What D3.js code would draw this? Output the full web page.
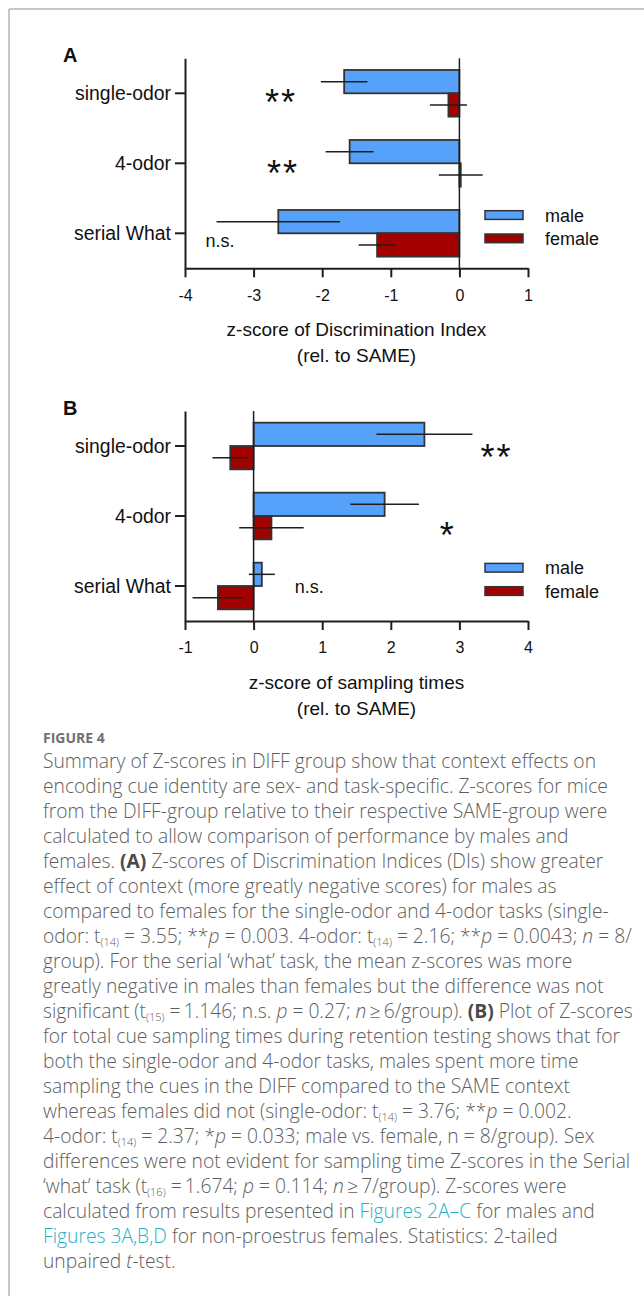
<!DOCTYPE html>
<html>
<head>
<meta charset="utf-8">
<script src="https://cdn.jsdelivr.net/npm/d3@7"></script>
<style>
  body { margin: 0; background: #fff; }
  svg text { font-family: "Liberation Sans", Arial, sans-serif; }
  .caption text { font-family: "Open Sans", sans-serif; white-space: pre; }
</style>
</head>
<body>
<svg id="fig" width="644" height="1296"></svg>
<script>
// categories and groups
var tasks = ["single-odor", "4-odor", "serial What"];
var sexes = ["male", "female"];

// panel A: z-score of discrimination index (mean, sem)
var diMale = [-1.68, -1.60, -2.64];
var diMaleErr = [0.34, 0.35, 0.90];
var diFemale = [-0.16, 0.02, -1.20];
var diFemaleErr = [0.27, 0.32, 0.27];
var diTicks = [-4, -3, -2, -1, 0, 1];
var diSig = ["**", "**", "n.s."];

// panel B: z-score of sampling times (mean, sem)
var stMale = [2.49, 1.91, 0.12];
var stMaleErr = [0.70, 0.50, 0.19];
var stFemale = [-0.34, 0.26, -0.52];
var stFemaleErr = [0.26, 0.47, 0.37];
var stTicks = [-1, 0, 1, 2, 3, 4];
var stSig = ["**", "*", "n.s."];

var colors = { male: "#56a2fb", female: "#a30000" };
var ink = "#1e1e1e";

var svg = d3.select("#fig");

// frame
svg.append("line").attr("x1", 9).attr("y1", 9).attr("x2", 644).attr("y2", 9)
    .attr("stroke", "#b4b4b4").attr("stroke-width", 1.5);
svg.append("line").attr("x1", 9).attr("y1", 9).attr("x2", 9).attr("y2", 1296)
    .attr("stroke", "#b4b4b4").attr("stroke-width", 1.5);

function panel(cfg) {
  var g = svg.append("g");
  var x = d3.scaleLinear().domain(d3.extent(cfg.ticks)).range([185, 528]);
  var y = d3.scaleBand().domain(tasks).range([cfg.top, cfg.top + 210]);
  var bw = y.bandwidth();
  var ySub = d3.scaleBand().domain(sexes).range([bw / 6, bw * 5 / 6]);

  var rows = [];
  tasks.forEach(function(t, i) {
    rows.push({ task: t, sex: "male", v: cfg.male[i], e: cfg.maleErr[i] });
    rows.push({ task: t, sex: "female", v: cfg.female[i], e: cfg.femaleErr[i] });
  });

  g.selectAll(".bar").data(rows).enter().append("rect")
      .attr("class", "bar")
      .attr("x", function(d) { return x(Math.min(0, d.v)); })
      .attr("width", function(d) { return Math.abs(x(d.v) - x(0)); })
      .attr("y", function(d) { return y(d.task) + ySub(d.sex); })
      .attr("height", ySub.bandwidth())
      .attr("fill", function(d) { return colors[d.sex]; })
      .attr("stroke", "#333")
      .attr("stroke-width", 1.8);

  g.selectAll(".err").data(rows).enter().append("line")
      .attr("class", "err")
      .attr("x1", function(d) { return x(d.v - d.e); })
      .attr("x2", function(d) { return x(d.v + d.e); })
      .attr("y1", function(d) { return y(d.task) + ySub(d.sex) + ySub.bandwidth() / 2; })
      .attr("y2", function(d) { return y(d.task) + ySub(d.sex) + ySub.bandwidth() / 2; })
      .attr("stroke", ink)
      .attr("stroke-width", 1.5);

  // zero line
  g.append("line")
      .attr("x1", x(0)).attr("x2", x(0))
      .attr("y1", cfg.top).attr("y2", cfg.top + 210)
      .attr("stroke", ink).attr("stroke-width", 1.5);

  var xAxis = g.append("g")
      .attr("transform", "translate(0," + (cfg.top + 210) + ")")
      .call(d3.axisBottom(x).tickValues(cfg.ticks).tickSize(9).tickPadding(12)
        .tickSizeOuter(0).tickFormat(function(d) { return String(d); }));
  var yAxis = g.append("g")
      .attr("transform", "translate(185,0)")
      .call(d3.axisLeft(y).tickSize(10).tickPadding(4).tickSizeOuter(0));

  [xAxis, yAxis].forEach(function(a) {
    a.select(".domain").attr("stroke", ink).attr("stroke-width", 2);
    a.selectAll(".tick line").attr("stroke", ink).attr("stroke-width", 2);
    a.selectAll(".tick text").attr("fill", "#111");
  });
  xAxis.selectAll(".tick text").style("font-size", "16px");
  yAxis.selectAll(".tick text").style("font-size", "19.4px").attr("dy", "0.36em");

  // significance marks
  cfg.sig.forEach(function(s, i) {
    var pos = cfg.sigPos[i];
    var star = s.indexOf("*") === 0;
    g.append("text")
        .attr("x", x(pos[0]))
        .attr("y", y(tasks[i]) + bw / 2 + pos[1] + (star ? 21 : 0))
        .attr("text-anchor", star ? "middle" : "start")
        .style("font-size", star ? "36px" : "18px")
        .style("letter-spacing", star ? "2px" : "0px")
        .attr("fill", "#111")
        .text(s);
  });

  // legend
  var leg = g.append("g").attr("transform", "translate(485," + (cfg.top + 152.4) + ")");
  sexes.forEach(function(s, i) {
    leg.append("rect").attr("x", 0).attr("y", i * 23.3).attr("width", 38).attr("height", 8.7)
        .attr("fill", colors[s]).attr("stroke", "#333").attr("stroke-width", 1.5);
    leg.append("text").attr("x", 60).attr("y", i * 23.3 + 11)
        .style("font-size", "18px").attr("fill", "#111").text(s);
  });

  // axis title
  cfg.title.forEach(function(t, i) {
    g.append("text")
        .attr("x", 356.5).attr("y", cfg.top + 210 + 68 + i * 25.5)
        .attr("text-anchor", "middle").style("font-size", "19px").attr("fill", "#111")
        .text(t);
  });

  // panel letter
  g.append("text").attr("x", 63).attr("y", cfg.top + 4)
      .style("font-size", "20px").style("font-weight", "bold").attr("fill", "#111")
      .text(cfg.letter);
}

panel({
  top: 58.3, ticks: diTicks, letter: "A",
  male: diMale, maleErr: diMaleErr, female: diFemale, femaleErr: diFemaleErr,
  sig: diSig, sigPos: [[-2.6, 1], [-2.57, 2], [-3.7, 13.4]],
  title: ["z-score of Discrimination Index", "(rel. to SAME)"]
});

panel({
  top: 411, ticks: stTicks, letter: "B",
  male: stMale, maleErr: stMaleErr, female: stFemale, femaleErr: stFemaleErr,
  sig: stSig, sigPos: [[3.54, 3], [2.83, 10.5], [0.6, 7.3]],
  title: ["z-score of sampling times", "(rel. to SAME)"]
});

// caption
var captionLines = [
  "Summary of Z-scores in DIFF group show that context effects on",
  "encoding cue identity are sex- and task-specific. Z-scores for mice",
  "from the DIFF-group relative to their respective SAME-group were",
  "calculated to allow comparison of performance by males and",
  "females. <b>(A)</b> Z-scores of Discrimination Indices (DIs) show greater",
  "effect of context (more greatly negative scores) for males as",
  "compared to females for the single-odor and 4-odor tasks (single-",
  "odor: t<s>(14)</s> = 3.55; **<i>p</i> = 0.003. 4-odor: t<s>(14)</s> = 2.16; **<i>p</i> = 0.0043; <i>n</i> = 8/",
  "group). For the serial \u2018what\u2019 task, the mean z-scores was more",
  "greatly negative in males than females but the difference was not",
  "significant (t<s>(15)</s> =\u20091.146; n.s. <i>p</i> = 0.27; <i>n</i>\u2009\u2265\u20096/group). <b>(B)</b> Plot of Z-scores",
  "for total cue sampling times during retention testing shows that for",
  "both the single-odor and 4-odor tasks, males spent more time",
  "sampling the cues in the DIFF compared to the SAME context",
  "whereas females did not (single-odor: t<s>(14)</s> = 3.76; **<i>p</i> = 0.002.",
  "4-odor: t<s>(14)</s> = 2.37; *<i>p</i> = 0.033; male vs. female, n = 8/group). Sex",
  "differences were not evident for sampling time Z-scores in the Serial",
  "\u2018what\u2019 task (t<s>(16)</s> =\u20091.674; <i>p</i> = 0.114; <i>n</i>\u2009\u2265\u20097/group). Z-scores were",
  "calculated from results presented in <a>Figures 2A\u2013C</a> for males and",
  "<a>Figures 3A,B,D</a> for non-proestrus females. Statistics: 2-tailed",
  "unpaired <i>t</i>-test."
];

var cap = svg.append("g").attr("class", "caption");
cap.append("text").attr("x", 43).attr("y", 743)
    .style("font-size", "14px").style("font-weight", "bold").attr("fill", "#707070")
    .text("FIGURE 4");

captionLines.forEach(function(line, k) {
  var t = cap.append("text").attr("x", 43).attr("y", 768 + k * 25)
      .style("font-size", "19.25px").style("font-weight", "300").attr("fill", "#5e5e5e");
  var st = { b: false, i: false, s: false, a: false }, shift = 0;
  line.split(/(<\/?[bisa]>)/).forEach(function(p) {
    var m = p.match(/^<(\/?)([bisa])>$/);
    if (m) { st[m[2]] = !m[1]; return; }
    if (!p) return;
    var ts = t.append("tspan").text(p);
    var want = st.s ? 3 : 0;
    if (want !== shift) { ts.attr("dy", want - shift); shift = want; }
    if (st.s) ts.style("font-size", "11px");
    if (st.i) ts.style("font-style", "italic");
    if (st.b) ts.style("font-weight", "bold").attr("fill", "#4a4a4a");
    if (st.a) ts.attr("fill", "#27b1c6");
  });
});
</script>
</body>
</html>
